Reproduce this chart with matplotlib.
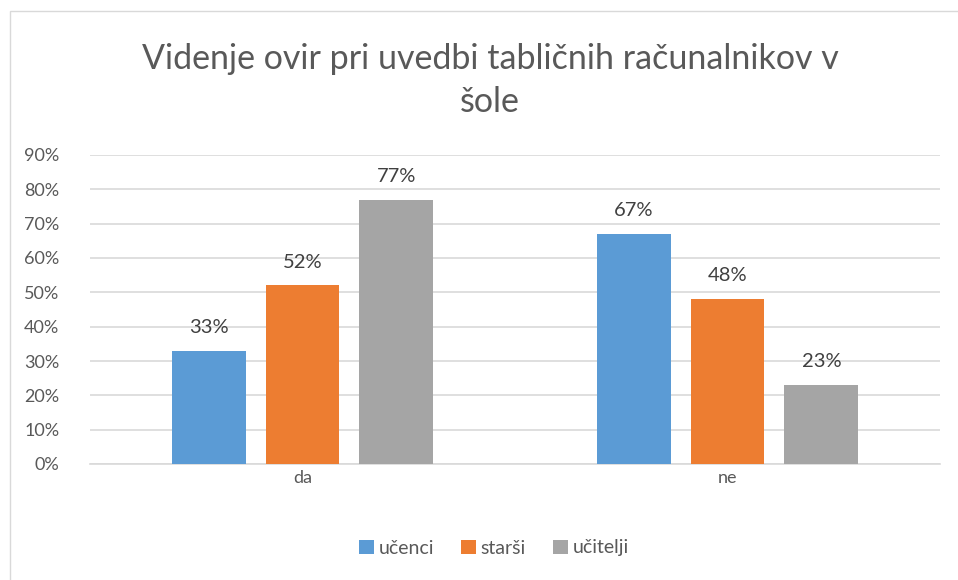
import matplotlib
matplotlib.use("Agg")
import matplotlib.pyplot as plt
from matplotlib.patches import Rectangle
import numpy as np

categories = ["da", "ne"]
series_names = ["učenci", "starši", "učitelji"]
ucenci = [33, 67]
starsi = [52, 48]
ucitelji = [77, 23]
y_ticks = [0, 10, 20, 30, 40, 50, 60, 70, 80, 90]

colors = ["#5B9BD5", "#ED7D31", "#A5A5A5"]
text_color = "#595959"
label_color = "#404040"
grid_color = "#D9D9D9"

plt.rcParams["font.family"] = ["Lato", "DejaVu Sans"]

fig = plt.figure(figsize=(9.58, 5.8), dpi=100)
fig.patch.set_facecolor("white")

# chart frame
fig.add_artist(Rectangle((10 / 958, -0.01), 1.0, 1 - 11 / 580 + 0.01,
                         transform=fig.transFigure, fill=False,
                         edgecolor="#D9D9D9", linewidth=1.0))

ax = fig.add_axes([90 / 958, (580 - 464) / 580, (940 - 90) / 958, (464 - 155) / 580])

x = np.arange(len(categories))
width = 0.174
step = 0.221
series = [ucenci, starsi, ucitelji]
for i, (vals, name, c) in enumerate(zip(series, series_names, colors)):
    pos = x + (i - 1) * step
    bars = ax.bar(pos, vals, width=width, color=c, label=name, zorder=3)
    for b, v in zip(bars, vals):
        ax.text(b.get_x() + b.get_width() / 2, v + 4.3, f"{v}%",
                ha="center", va="bottom", fontsize=14.5, color=label_color)

ax.set_xlim(-0.5, 1.5)
ax.set_ylim(0, 90)
ax.set_yticks(y_ticks)
ax.set_yticklabels([f"{t}%" for t in y_ticks], fontsize=13, color=text_color)
ax.set_xticks(x)
ax.set_xticklabels(categories, fontsize=13, color=text_color)
ax.tick_params(axis="both", length=0)
ax.tick_params(axis="y", pad=22)
ax.tick_params(axis="x", pad=4)
ax.grid(axis="y", color=grid_color, linewidth=1.2, zorder=0)
for s in ["top", "right", "left"]:
    ax.spines[s].set_visible(False)
ax.spines["bottom"].set_color(grid_color)
ax.spines["bottom"].set_linewidth(1.2)

fig.text(490 / 958, 1 - 59 / 580, "Videnje ovir pri uvedbi tabličnih računalnikov v",
         ha="center", va="center", fontsize=24.5, color=text_color)
fig.text(490 / 958, 1 - 102 / 580, "šole", ha="center", va="center", fontsize=24.5,
         color=text_color)

fig.legend(loc="center", bbox_to_anchor=(494 / 958, 1 - 548 / 580), ncol=3,
           frameon=False, fontsize=14, labelcolor=text_color,
           handlelength=0.75, handleheight=0.75, handletextpad=0.25,
           columnspacing=1.4)

fig.savefig("out.png", dpi=100, facecolor="white")
